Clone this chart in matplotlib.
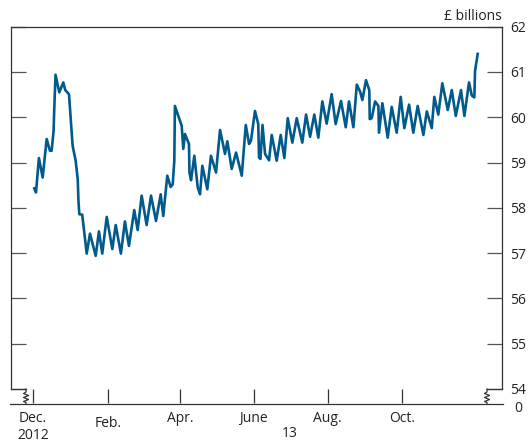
import matplotlib
matplotlib.use("Agg")
import matplotlib.pyplot as plt
from matplotlib.lines import Line2D
from matplotlib.transforms import ScaledTranslation, blended_transform_factory

# days since 1 Dec 2012, £ billions
days = [1.1, 2.5, 4.9, 8.0, 11.3, 14.0, 15.4, 17.0, 17.5, 18.6, 21.7, 25.0, 26.6, 29.7,
        32.7, 35.2, 36.9, 37.5, 38.2, 40.6, 44.3, 47.0, 51.7, 54.4, 57.1, 60.8, 65.4, 68.2,
        72.5, 75.8, 79.1, 83.5, 86.3, 89.6, 93.7, 97.3, 101.4, 105.3, 107.4, 110.7, 113.5,
        115.2, 116.5, 117.0, 122.6, 123.9, 125.3, 128.6, 129.0, 130.3, 133.0, 135.8, 137.7,
        139.6, 143.7, 146.7, 150.9, 154.2, 158.3, 160.2, 163.8, 167.4, 172.1, 175.4, 178.1,
        179.7, 183.0, 185.7, 186.3, 187.5, 189.2, 191.3, 194.6, 196.8, 200.9, 204.2, 207.2,
        210.0, 213.8, 217.4, 222.0, 225.1, 228.4, 231.9, 235.2, 238.5, 242.1, 246.2, 249.5,
        253.9, 257.8, 260.5, 264.1, 266.9, 269.6, 271.5, 274.5, 277.2, 277.6, 279.2, 282.0,
        284.7, 285.2, 288.0, 292.4, 295.7, 299.8, 303.1, 306.1, 310.0, 313.5, 317.1, 321.8,
        324.6, 328.7, 330.8, 334.1, 337.4, 341.9, 345.2, 348.5, 352.8, 355.6, 359.4, 361.7,
        363.8, 364.4, 366.6]
values = [58.43, 58.34, 59.10, 58.67, 59.52, 59.26, 59.26, 59.70, 60.14, 60.94, 60.55, 60.77,
          60.60, 60.51, 59.37, 59.04, 58.63, 58.15, 57.86, 57.85, 56.99, 57.43, 56.94, 57.48,
          56.99, 57.80, 57.09, 57.62, 56.99, 57.70, 57.16, 57.95, 57.51, 58.27, 57.62, 58.27,
          57.71, 58.30, 57.82, 58.71, 58.46, 58.52, 59.04, 60.25, 59.81, 59.30, 59.63, 59.41,
          58.78, 58.61, 59.15, 58.45, 58.30, 58.93, 58.41, 59.15, 58.78, 59.72, 59.19, 59.47,
          58.86, 59.22, 58.71, 59.83, 59.41, 59.48, 60.14, 59.85, 59.11, 59.08, 59.83, 59.19,
          59.05, 59.61, 59.04, 59.61, 59.10, 59.98, 59.44, 59.98, 59.44, 60.06, 59.57, 60.06,
          59.55, 60.35, 59.86, 60.51, 59.85, 60.36, 59.78, 60.35, 59.78, 60.72, 60.57, 60.38,
          60.82, 60.60, 59.96, 59.98, 60.35, 60.25, 59.66, 60.31, 59.55, 60.23, 59.66, 60.45,
          59.76, 60.28, 59.66, 60.25, 59.61, 60.13, 59.76, 60.45, 60.06, 60.75, 60.16, 60.60,
          60.03, 60.60, 60.03, 60.77, 60.48, 60.44, 61.03, 61.40]

month_ticks = [0, 62, 121, 182, 243, 304]
month_labels = ["Dec.\n2012", "Feb.", "Apr.", "June", "Aug.", "Oct."]
year_label = "13"
year_pos = 212
y_ticks = [54, 55, 56, 57, 58, 59, 60, 61, 62]

plt.rcParams["font.family"] = ["Open Sans", "DejaVu Sans"]
plt.rcParams["font.size"] = 10
W, H = 528, 443
fig = plt.figure(figsize=(W / 100, H / 100), dpi=100)

def fx(x):
    return x / W

def fy(y):
    return 1 - y / H

ax = fig.add_axes([fx(11), fy(389), fx(502) - fx(11), fy(26.7) - fy(389)])
ax.plot(days, values, color="#005a8c", lw=1.9, solid_joinstyle="round")
ax.set_xlim(-18.1, 386.6)
ax.set_ylim(54, 62)

frame = "#333333"
for s in ["left", "right", "top"]:
    ax.spines[s].set_color(frame)
    ax.spines[s].set_linewidth(0.9)
ax.spines["bottom"].set_visible(False)

ax.set_xticks(month_ticks)
ax.set_xticklabels(month_labels, linespacing=1.25)
ax.tick_params(axis="x", direction="out", length=10, width=0.9, color=frame,
               pad=5.5, labelcolor="#222222")
lab = ax.get_xticklabels()[1]
lab.set_transform(lab.get_transform() + ScaledTranslation(0, -4 / 72, fig.dpi_scale_trans))

ax.set_yticks(y_ticks)
ax.yaxis.set_ticks_position("both")
ax.tick_params(axis="y", direction="in", length=11, width=0.9, color="#555555",
               labelleft=False, labelright=True, pad=6, labelcolor="#222222")

trans = blended_transform_factory(ax.transData, ax.transAxes)
ax.text(year_pos, -0.122, year_label, transform=trans, ha="center", va="center",
        color="#222222")
ax.text(1.0, 1.018, "£ billions", transform=ax.transAxes, ha="right", va="baseline",
        color="#222222")
fig.text(fx(518), fy(408), "0", ha="center", va="center", color="#222222")

# broken-axis decoration
def line(xs, ys):
    fig.add_artist(Line2D([fx(v) for v in xs], [fy(v) for v in ys], color=frame,
                          lw=0.9, transform=fig.transFigure))

line([10, 502.7], [404.3, 404.3])
line([11, 26], [389, 389])
line([487, 502], [389, 389])
for x0 in (26, 487):
    line([x0, x0, x0 - 2.5, x0 + 2.5, x0 - 2.5, x0 + 2.5, x0 - 2.5, x0, x0],
         [389, 392, 393.5, 395.5, 397.5, 399.5, 401.5, 402.5, 404.3])

fig.savefig("out.png", dpi=100)
